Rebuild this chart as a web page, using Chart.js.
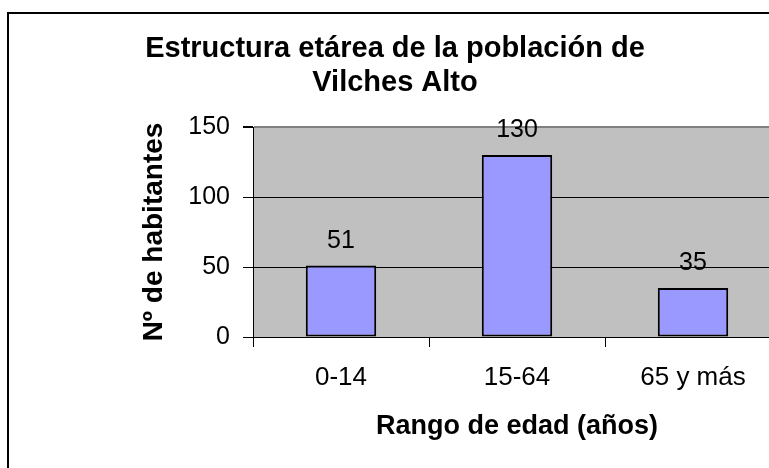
<!DOCTYPE html>
<html><head><meta charset="utf-8">
<script src="https://cdn.jsdelivr.net/npm/chart.js@4"></script>
<style>html,body{margin:0;padding:0;overflow:hidden;background:#fff;width:769px;height:468px}canvas{display:block}</style>
</head><body>
<canvas id="c" width="800" height="480"></canvas>
<script>
const categories = ['0-14', '15-64', '65 y más'];
const habitantes = [51, 130, 35];
const yTicks = [0, 50, 100, 150];
const titleLines = ['Estructura etárea de la población de', 'Vilches Alto'];
const yTitle = 'Nº de habitantes';
const xTitle = 'Rango de edad (años)';

const F = "'Liberation Sans', Arial, sans-serif";

const framePlugin = {
  id: 'frame',
  beforeDraw(chart) {
    const {ctx, chartArea: a} = chart;
    ctx.save();
    ctx.fillStyle = '#ffffff';
    ctx.fillRect(0, 0, chart.width, chart.height);
    ctx.strokeStyle = '#000';
    ctx.lineWidth = 2;
    ctx.strokeRect(8, 13, 1000, 1000);
    ctx.fillStyle = '#c0c0c0';
    ctx.fillRect(a.left, a.top, a.right - a.left, a.bottom - a.top);
    ctx.restore();
  }
};

const labelPlugin = {
  id: 'valueLabels',
  afterDatasetsDraw(chart) {
    const {ctx} = chart;
    const meta = chart.getDatasetMeta(0);
    ctx.save();
    ctx.font = '25px ' + F;
    ctx.fillStyle = '#000';
    ctx.textAlign = 'center';
    ctx.textBaseline = 'alphabetic';
    meta.data.forEach((bar, i) => {
      ctx.fillText(String(chart.data.datasets[0].data[i]), bar.x, bar.y - 18);
    });
    ctx.restore();
  }
};

new Chart(document.getElementById('c'), {
  type: 'bar',
  data: {
    labels: categories,
    datasets: [{
      data: habitantes,
      backgroundColor: '#9999ff',
      borderColor: '#000',
      borderWidth: 2,
      borderSkipped: false,
      categoryPercentage: 1,
      barPercentage: 0.4
    }]
  },
  options: {
    responsive: false,
    animation: false,
    devicePixelRatio: 1,
    layout: {padding: {left: 9, right: 19, top: 0, bottom: 0}},
    plugins: {
      legend: {display: false},
      tooltip: {enabled: false},
      title: {
        display: true,
        text: titleLines,
        color: '#000',
        font: {family: F, size: 29, weight: 'bold', lineHeight: 34 / 29},
        padding: {top: 32, bottom: 27}
      }
    },
    scales: {
      x: {
        grid: {offset: true, drawOnChartArea: false, drawTicks: true, tickLength: 10, color: '#000'},
        border: {color: '#000', width: 1},
        ticks: {color: '#000', font: {family: F, size: 26}, padding: 15},
        title: {display: true, text: xTitle, color: '#000', font: {family: F, size: 27, weight: 'bold'}, padding: {top: 0, bottom: 37}},
        afterFit(s) { s.height = 143; }
      },
      y: {
        min: 0,
        max: 150,
        afterBuildTicks(s) { s.ticks = yTicks.map(v => ({value: v})); },
        ticks: {color: '#000', font: {family: F, size: 25}, padding: 13},
        grid: {
          color: c => (c.tick && c.tick.value === 150) ? '#808080' : '#000',
          lineWidth: c => (c.tick && c.tick.value === 150) ? 2 : 1,
          tickColor: '#000',
          tickLength: 10
        },
        border: {color: '#000', width: 1},
        title: {display: true, text: yTitle, color: '#000', font: {family: F, size: 28, weight: 'bold'}, padding: {top: 128, bottom: 0}},
        afterFit(s) { s.width = 244; }
      }
    }
  },
  plugins: [framePlugin, labelPlugin]
});
</script>
</body></html>
